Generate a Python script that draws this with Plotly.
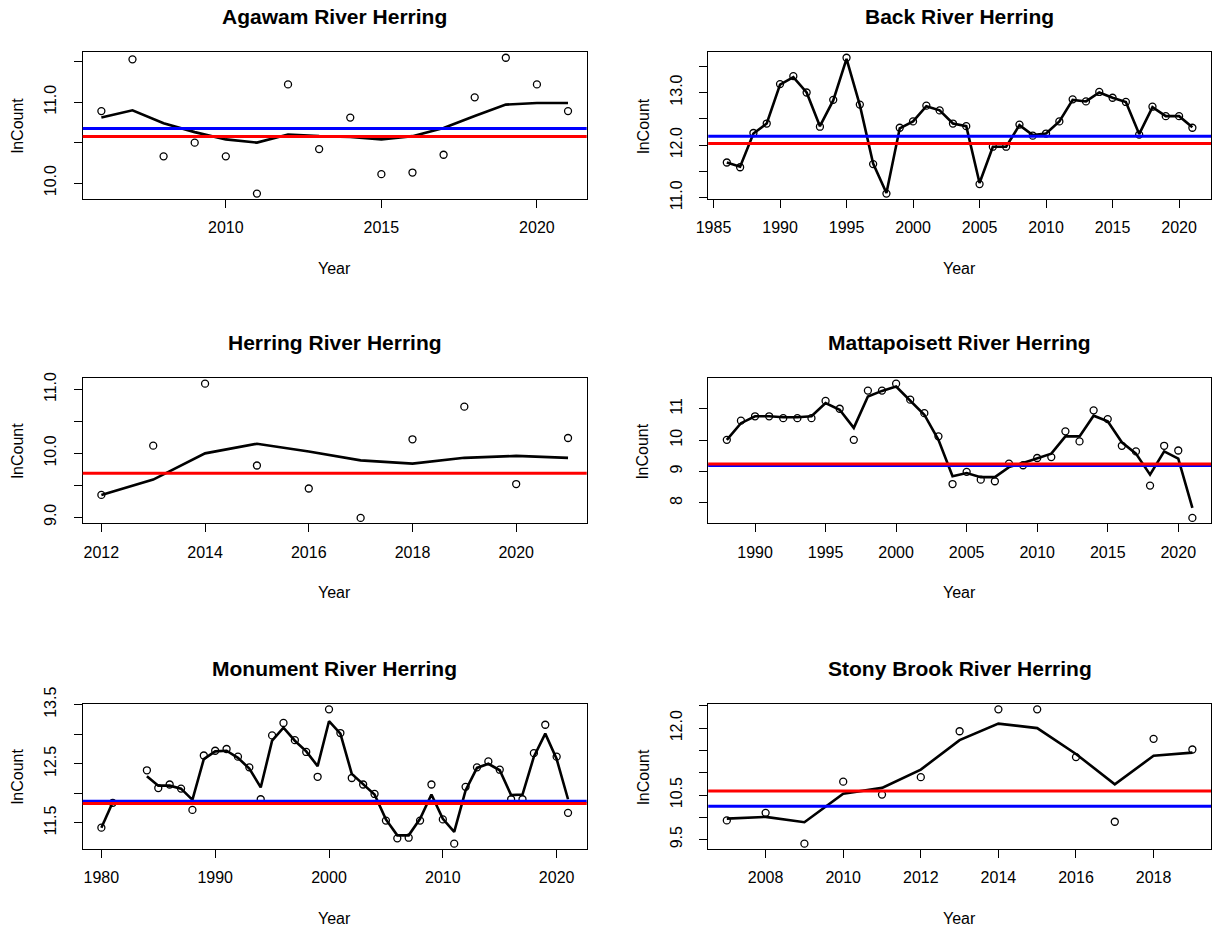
import plotly.graph_objects as go
from plotly.subplots import make_subplots

# ---------------- data ----------------
agawam_years = list(range(2006, 2022))
agawam_obs = [10.89, 11.53, 10.33, 10.50, 10.33, 9.87, 11.22, 10.42, 10.81, 10.11, 10.13, 10.35, 11.06, 11.55, 11.22, 10.89]
agawam_fit = [10.81, 10.90, 10.74, 10.63, 10.54, 10.50, 10.60, 10.58, 10.57, 10.54, 10.58, 10.68, 10.83, 10.97, 10.99, 10.99]
agawam_blue = 10.675
agawam_red = 10.575

back_years = list(range(1986, 2022))
back_obs = [11.67, 11.58, 12.23, 12.41, 13.16, 13.31, 13.00, 12.35, 12.86, 13.66,
            12.77, 11.64, 11.08, 12.33, 12.45, 12.75, 12.66, 12.41, 12.36, 11.26,
            11.97, 11.97, 12.39, 12.18, 12.22, 12.45, 12.87, 12.83, 13.01, 12.90,
            12.82, 12.20, 12.73, 12.55, 12.55, 12.33]
back_fit = [11.67, 11.59, 12.22, 12.41, 13.15, 13.29, 13.00, 12.36, 12.85, 13.64,
            12.76, 11.65, 11.09, 12.32, 12.45, 12.74, 12.66, 12.41, 12.36, 11.28,
            11.97, 11.97, 12.38, 12.19, 12.22, 12.45, 12.86, 12.83, 13.00, 12.90,
            12.82, 12.21, 12.72, 12.55, 12.55, 12.34]
back_blue = 12.17
back_red = 12.03

herring_years = list(range(2012, 2022))
herring_obs = [9.35, 10.12, 11.09, 9.81, 9.45, 8.99, 10.22, 10.73, 9.52, 10.24]
herring_fit = [9.35, 9.59, 10.00, 10.15, 10.03, 9.89, 9.84, 9.93, 9.96, 9.93]
herring_red = 9.69

matt_years = list(range(1988, 2022))
matt_obs = [10.01, 10.62, 10.76, 10.76, 10.70, 10.70, 10.70, 11.25, 11.00, 10.01,
            11.58, 11.58, 11.80, 11.29, 10.86, 10.12, 8.60, 8.99, 8.74, 8.69,
            9.25, 9.20, 9.43, 9.46, 10.28, 9.96, 10.95, 10.67, 9.82, 9.64,
            8.55, 9.82, 9.67, 7.52]
matt_fit = [10.01, 10.54, 10.76, 10.76, 10.73, 10.73, 10.76, 11.18, 10.97, 10.39,
            11.39, 11.57, 11.71, 11.25, 10.81, 10.01, 8.85, 8.95, 8.82, 8.82,
            9.14, 9.27, 9.41, 9.57, 10.12, 10.12, 10.78, 10.60, 9.93, 9.57,
            8.90, 9.64, 9.41, 7.84]
matt_blue = 9.19
matt_red = 9.24

monument_years = list(range(1980, 2022))
monument_obs = [11.42, 11.84, None, None, 12.39, 12.09, 12.15, 12.08, 11.72, 12.64,
                12.72, 12.75, 12.62, 12.44, 11.90, 12.98, 13.19, 12.90, 12.70, 12.28,
                13.42, 13.02, 12.26, 12.15, 11.99, 11.54, 11.24, 11.25, 11.54, 12.15,
                11.56, 11.15, 12.11, 12.44, 12.54, 12.40, 11.90, 11.90, 12.68, 13.16,
                12.62, 11.67]
monument_fit = [11.42, 11.85, None, None, 12.29, 12.13, 12.13, 12.08, 11.89, 12.58,
                12.71, 12.72, 12.60, 12.42, 12.10, 12.89, 13.11, 12.89, 12.71, 12.46,
                13.22, 13.01, 12.33, 12.16, 11.98, 11.56, 11.29, 11.29, 11.57, 11.98,
                11.57, 11.35, 12.05, 12.43, 12.50, 12.39, 11.97, 11.98, 12.62, 13.01,
                12.58, 11.90]
monument_blue = 11.865
monument_red = 11.83

stony_years = list(range(2007, 2020))
stony_obs = [9.93, 10.10, 9.41, 10.80, 10.51, 10.90, 11.93, 12.42, 12.42, 11.35, 9.90, 11.76, 11.52]
stony_fit = [9.97, 10.01, 9.89, 10.53, 10.66, 11.07, 11.73, 12.10, 12.00, 11.42, 10.74, 11.38, 11.45]
stony_blue = 10.25
stony_red = 10.59

titles = ["Agawam River Herring", "Back River Herring", "Herring River Herring",
          "Mattapoisett River Herring", "Monument River Herring", "Stony Brook River Herring"]

agawam_xticks = [2010, 2015, 2020]
back_xticks = [1985, 1990, 1995, 2000, 2005, 2010, 2015, 2020]
herring_xticks = [2012, 2014, 2016, 2018, 2020]
matt_xticks = [1990, 1995, 2000, 2005, 2010, 2015, 2020]
monument_xticks = [1980, 1990, 2000, 2010, 2020]
stony_xticks = [2008, 2010, 2012, 2014, 2016, 2018]

agawam_yticks = [10.0, 10.5, 11.0, 11.5]
agawam_ylabels = ["10.0", "", "11.0", ""]
back_yticks = [11.0, 11.5, 12.0, 12.5, 13.0, 13.5]
back_ylabels = ["11.0", "", "12.0", "", "13.0", ""]
herring_yticks = [9.0, 9.5, 10.0, 10.5, 11.0]
herring_ylabels = ["9.0", "", "10.0", "", "11.0"]
matt_yticks = [8, 9, 10, 11]
matt_ylabels = ["8", "9", "10", "11"]
monument_yticks = [11.5, 12.0, 12.5, 13.0, 13.5]
monument_ylabels = ["11.5", "", "12.5", "", "13.5"]
stony_yticks = [9.5, 10.0, 10.5, 11.0, 11.5, 12.0, 12.5]
stony_ylabels = ["9.5", "", "10.5", "", "", "12.0", ""]

panels = [
    (1, 1, titles[0], agawam_years, agawam_obs, agawam_fit, agawam_blue, agawam_red, agawam_xticks, agawam_yticks, agawam_ylabels),
    (1, 2, titles[1], back_years, back_obs, back_fit, back_blue, back_red, back_xticks, back_yticks, back_ylabels),
    (2, 1, titles[2], herring_years, herring_obs, herring_fit, None, herring_red, herring_xticks, herring_yticks, herring_ylabels),
    (2, 2, titles[3], matt_years, matt_obs, matt_fit, matt_blue, matt_red, matt_xticks, matt_yticks, matt_ylabels),
    (3, 1, titles[4], monument_years, monument_obs, monument_fit, monument_blue, monument_red, monument_xticks, monument_yticks, monument_ylabels),
    (3, 2, titles[5], stony_years, stony_obs, stony_fit, stony_blue, stony_red, stony_xticks, stony_yticks, stony_ylabels),
]

# ---------------- layout geometry (pixels) ----------------
W, H = 1215, 931
FONT = "Liberation Sans, Arial, sans-serif"
TICK_SIZE = 16
LABEL_SIZE = 16
TITLE_SIZE = 21
col_px = {1: (82.7, 586.7), 2: (708.2, 1211.0)}
row_px = {1: (52.3, 199.0), 2: (378.3, 523.3), 3: (704.0, 849.0)}

fig = make_subplots(rows=3, cols=2)
annotations = []

for (r, c, title, years, obs, fit, blue, red, xt, yt, yl) in panels:
    fig.add_trace(go.Scatter(x=years, y=obs, mode="markers",
                             marker=dict(symbol="circle-open", size=7, color="black",
                                         line=dict(width=1.3, color="black")),
                             hoverinfo="x+y"), row=r, col=c)
    fig.add_trace(go.Scatter(x=years, y=fit, mode="lines", connectgaps=False,
                             line=dict(color="black", width=2.6)), row=r, col=c)
    if blue is not None:
        fig.add_hline(y=blue, line=dict(color="#0000FF", width=3), row=r, col=c)
    fig.add_hline(y=red, line=dict(color="#FF0000", width=3), row=r, col=c)

    vals = [v for v in obs if v is not None]
    lo, hi = min(vals), max(vals)
    ypad = 0.04 * (hi - lo)
    xpad = 0.04 * (max(years) - min(years))

    x0, x1 = col_px[c]
    y0, y1 = row_px[r]
    fig.update_xaxes(domain=[x0 / W, x1 / W], range=[min(years) - xpad, max(years) + xpad],
                     tickvals=xt, ticktext=[str(v) for v in xt], automargin=False,
                     showline=True, mirror=True, linecolor="black", linewidth=1,
                     ticks="outside", ticklen=8, tickwidth=1, tickcolor="black",
                     showgrid=False, zeroline=False, ticklabelstandoff=6,
                     tickfont=dict(family=FONT, size=TICK_SIZE, color="black"),
                     row=r, col=c)
    fig.update_yaxes(domain=[1 - y1 / H, 1 - y0 / H], range=[lo - ypad, hi + ypad],
                     tickvals=yt, ticktext=yl, tickangle=-90, automargin=False,
                     showline=True, mirror=True, linecolor="black", linewidth=1,
                     ticks="outside", ticklen=8, tickwidth=1, tickcolor="black",
                     showgrid=False, zeroline=False, ticklabelstandoff=11,
                     tickfont=dict(family=FONT, size=TICK_SIZE, color="black"),
                     row=r, col=c)

    cx = (x0 + x1) / 2
    annotations.append(dict(text="<b>" + title + "</b>", x=cx / W, y=1 - (y0 - 36) / H,
                            xref="paper", yref="paper", xanchor="center", yanchor="middle",
                            showarrow=False, font=dict(family=FONT, size=TITLE_SIZE, color="black")))
    annotations.append(dict(text="Year", x=cx / W, y=1 - (y1 + 69) / H,
                            xref="paper", yref="paper", xanchor="center", yanchor="middle",
                            showarrow=False, font=dict(family=FONT, size=LABEL_SIZE, color="black")))
    annotations.append(dict(text="lnCount", x=(x0 - 65) / W, y=1 - ((y0 + y1) / 2) / H,
                            xref="paper", yref="paper", xanchor="center", yanchor="middle",
                            textangle=-90, showarrow=False,
                            font=dict(family=FONT, size=LABEL_SIZE, color="black")))

fig.update_layout(width=W, height=H,
                  margin=dict(l=0, r=0, t=0, b=0, pad=0, autoexpand=False),
                  paper_bgcolor="white", plot_bgcolor="white",
                  showlegend=False, annotations=annotations,
                  font=dict(family=FONT, color="black"))

fig.write_html("out.html", config={"displayModeBar": False},
               post_script="document.body.style.margin='0';document.body.style.padding='0';"
                           "document.body.style.overflow='hidden';")
